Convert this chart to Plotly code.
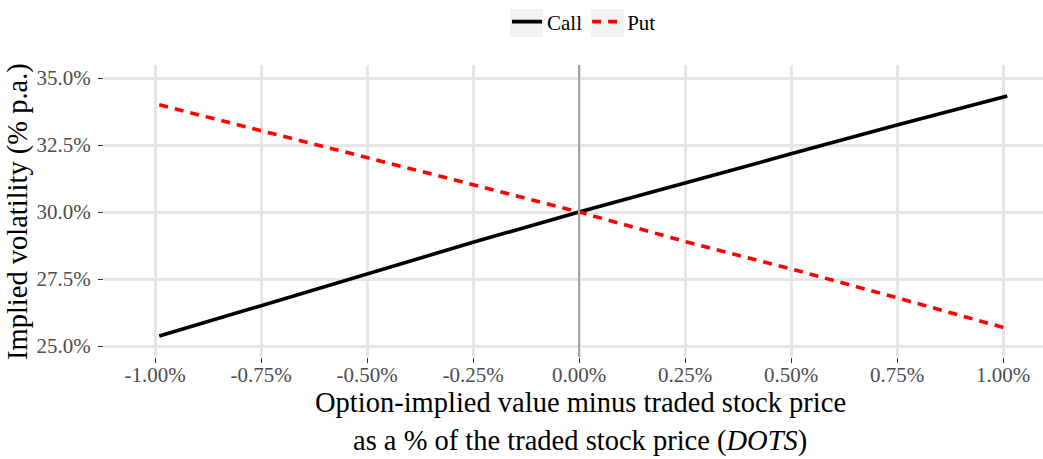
import plotly.graph_objects as go

# Data
dots = [-0.99, -0.75, -0.5, -0.25, 0.0, 0.25, 0.5, 0.75, 1.01]  # % of traded stock price
call_iv = [25.37, 26.5, 27.7, 28.87, 30.0, 31.1, 32.17, 33.25, 34.33]
put_iv = [34.0, 33.05, 32.03, 31.02, 30.0, 28.9, 27.88, 26.8, 25.65]

x_ticks = [-1.0, -0.75, -0.5, -0.25, 0.0, 0.25, 0.5, 0.75, 1.0]
x_tick_labels = ["-1.00%", "-0.75%", "-0.50%", "-0.25%", "0.00%", "0.25%", "0.50%", "0.75%", "1.00%"]
y_ticks = [25.0, 27.5, 30.0, 32.5, 35.0]
y_tick_labels = ["25.0%", "27.5%", "30.0%", "32.5%", "35.0%"]

FONT = "Liberation Serif"

W, H = 1043, 459
L, R, T, B = 104, 0, 65, 102
PW, PH = W - L - R, H - T - B

fig = go.Figure()
fig.add_trace(go.Scatter(x=dots, y=call_iv, mode="lines", name="Call",
                         line=dict(color="black", width=3.6)))
fig.add_trace(go.Scatter(x=dots, y=put_iv, mode="lines", name="Put",
                         line=dict(color="#FF0000", width=3.6, dash="9px,7px")))

fig.add_shape(type="line", x0=0, x1=0, y0=0, y1=1, xref="x", yref="paper",
              line=dict(color="#A3A3A3", width=2), layer="above")

def px_x(px):
    return (px - L) / PW

def px_y(py):
    return (H - B - py) / PH

# grey legend key backgrounds
for x0, x1 in [(510, 543), (591, 624)]:
    fig.add_shape(type="rect", xref="paper", yref="paper",
                  x0=px_x(x0), x1=px_x(x1), y0=px_y(37), y1=px_y(9),
                  fillcolor="#F2F2F2", line=dict(width=0), layer="below")

# x-axis title (two lines) centred like the reference
fig.add_annotation(text="Option-implied value minus traded stock price",
                   x=px_x(580), y=px_y(402), xref="paper", yref="paper",
                   xanchor="center", yanchor="middle", showarrow=False,
                   font=dict(size=28.5, color="black", family=FONT))
fig.add_annotation(text="as a % of the traded stock price (<i>DOTS</i>)",
                   x=px_x(580), y=px_y(441), xref="paper", yref="paper",
                   xanchor="center", yanchor="middle", showarrow=False,
                   font=dict(size=28.5, color="black", family=FONT))
# y-axis title
fig.add_annotation(text="Implied volatility (% p.a.)", textangle=-90,
                   x=px_x(18), y=px_y(212), xref="paper", yref="paper",
                   xanchor="center", yanchor="middle", showarrow=False,
                   font=dict(size=28.5, color="black", family=FONT))

fig.update_layout(
    width=W, height=H,
    margin=dict(l=L, r=R, t=T, b=B, autoexpand=False),
    paper_bgcolor="white", plot_bgcolor="white",
    font=dict(family=FONT, color="black", size=21),
    showlegend=True,
    legend=dict(orientation="h", x=px_x(584), xanchor="center", y=px_y(22), yref="paper",
                yanchor="middle", font=dict(size=21, family=FONT, color="black"),
                itemwidth=30, bgcolor="rgba(0,0,0,0)"),
    xaxis=dict(
        range=[-1.1203, 1.0943], tickvals=x_ticks, ticktext=x_tick_labels,
        showgrid=True, gridcolor="#E6E6E6", gridwidth=2.5, zeroline=False,
        ticks="outside", ticklen=5, tickwidth=1.2, tickcolor="#333333",
        tickfont=dict(size=21, color="#4D4D4D", family=FONT),
        ticklabelstandoff=-6,
        showline=False,
    ),
    yaxis=dict(
        range=[24.59, 35.485], tickvals=y_ticks, ticktext=y_tick_labels,
        showgrid=True, gridcolor="#E6E6E6", gridwidth=2.5, zeroline=False,
        ticks="outside", ticklen=5, tickwidth=1.2, tickcolor="#333333",
        tickfont=dict(size=21, color="#4D4D4D", family=FONT),
        ticklabelstandoff=3,
        showline=False,
    ),
)

fig.write_html("out.html", config={"displayModeBar": False},
               post_script="document.body.style.margin='0';document.body.style.overflow='hidden';")
